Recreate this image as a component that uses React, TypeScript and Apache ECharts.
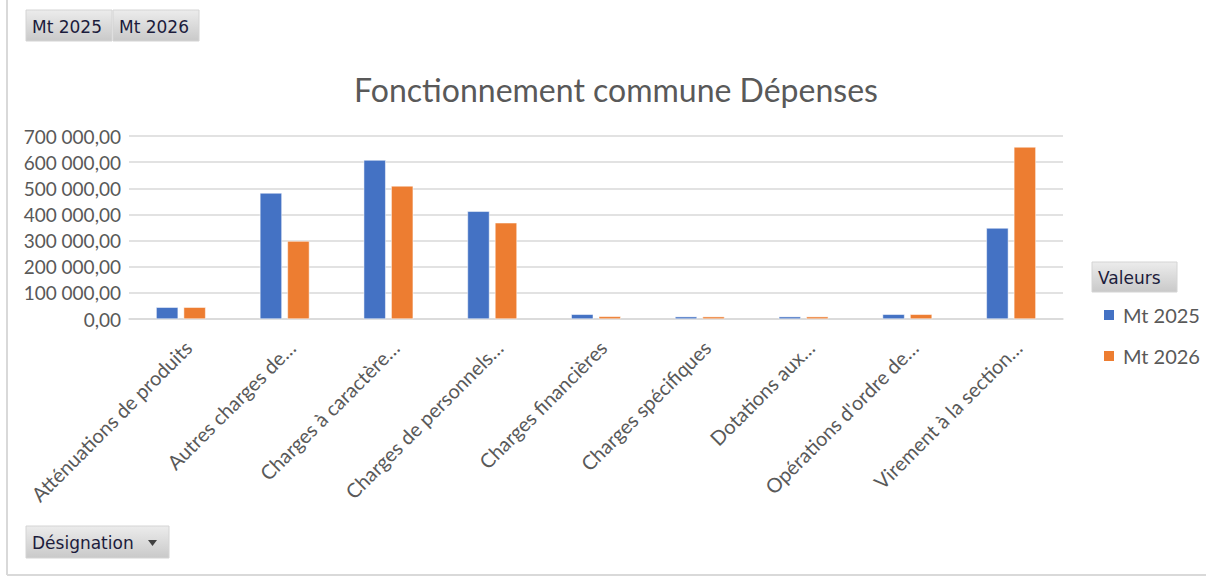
import React, { useEffect, useRef } from "react";
import * as echarts from "echarts";

const categories = [
  "Atténuations de produits",
  "Autres charges de…",
  "Charges à caractère…",
  "Charges de personnels…",
  "Charges financières",
  "Charges spécifiques",
  "Dotations aux…",
  "Opérations d'ordre de…",
  "Virement à la section…",
];
const mt2025 = [45000, 482000, 608000, 412000, 18000, 9000, 9000, 18000, 348000];
const mt2026 = [45000, 298000, 509000, 368000, 10000, 9000, 9000, 18000, 658000];
const seriesNames = ["Mt 2025", "Mt 2026"];
const titleText = "Fonctionnement commune Dépenses";

const FONT = "Lato, 'Open Sans', sans-serif";
const BTN_FONT = "'DejaVu Sans', Tahoma, sans-serif";

function fmt(v: number): string {
  const s = Math.round(v).toString().replace(/\B(?=(\d{3})+(?!\d))/g, " ");
  return s + ",00";
}

const btnFill = new echarts.graphic.LinearGradient(0, 0, 0, 1, [
  { offset: 0, color: "#ececec" },
  { offset: 1, color: "#c9c9c9" },
]);

function button(x: number, y: number, w: number, h: number, text: string, fontSize = 17) {
  return {
    type: "group",
    x,
    y,
    children: [
      { type: "rect", shape: { x: 0, y: 0, width: w, height: h }, style: { fill: btnFill, stroke: "#d4d4d4", lineWidth: 1 } },
      {
        type: "text",
        x: 6,
        y: h / 2 + 1,
        style: { text, fill: "#1c1c3c", font: `${fontSize}px ${BTN_FONT}`, verticalAlign: "middle" },
      },
    ],
  };
}

export default function App() {
  const ref = useRef<HTMLDivElement>(null);
  useEffect(() => {
    if (!ref.current) return;
    const chart = echarts.init(ref.current, undefined, { renderer: "svg" });
    chart.setOption({
      animation: false,
      backgroundColor: "#ffffff",
      title: {
        text: titleText,
        left: 611,
        textAlign: "center",
        top: 68,
        textStyle: { fontFamily: FONT, fontSize: 32, fontWeight: "normal", color: "#595959" },
      },
      legend: {
        orient: "vertical",
        left: 1097,
        top: 300,
        itemWidth: 12,
        itemHeight: 12,
        itemGap: 21,
        icon: "rect",
        data: seriesNames,
        textStyle: { fontFamily: FONT, fontSize: 20, color: "#595959", padding: [0, 0, 0, 3] },
      },
      grid: { left: 129, right: 143, top: 136, bottom: 259, containLabel: false },
      xAxis: {
        type: "category",
        data: categories,
        axisLine: { lineStyle: { color: "#d9d9d9", width: 1.5 } },
        axisTick: { show: false },
        axisLabel: {
          interval: 0,
          rotate: 45,
          margin: 18,
          verticalAlign: "top",
          fontFamily: FONT,
          fontSize: 20,
          color: "#595959",
        },
      },
      yAxis: {
        type: "value",
        min: 0,
        max: 700000,
        interval: 100000,
        axisLine: { show: false },
        axisTick: { show: false },
        splitLine: { lineStyle: { color: "#d9d9d9", width: 1.5 } },
        axisLabel: { formatter: (v: number) => fmt(v), fontFamily: FONT, fontSize: 19, color: "#595959", margin: 8 },
      },
      series: [
        {
          name: seriesNames[0],
          type: "bar",
          data: mt2025,
          barWidth: 22,
          barGap: "25%",
          itemStyle: { color: "#4472C4", borderColor: "#ffffff", borderWidth: 0.5 },
        },
        {
          name: seriesNames[1],
          type: "bar",
          data: mt2026,
          barWidth: 22,
          barGap: "25%",
          itemStyle: { color: "#ED7D31", borderColor: "#ffffff", borderWidth: 0.5 },
        },
      ],
      graphic: [
        { type: "line", shape: { x1: 7, y1: 0, x2: 7, y2: 575 }, style: { stroke: "#d9d9d9", lineWidth: 2 } },
        { type: "line", shape: { x1: 7, y1: 575, x2: 1206, y2: 575 }, style: { stroke: "#d9d9d9", lineWidth: 2 } },
        button(26, 10, 86, 31, "Mt 2025"),
        button(113, 10, 86, 31, "Mt 2026"),
        button(1092, 262, 85, 30, "Valeurs", 17),
        {
          type: "group",
          x: 26,
          y: 526,
          children: [
            { type: "rect", shape: { x: 0, y: 0, width: 143, height: 32 }, style: { fill: btnFill, stroke: "#d4d4d4", lineWidth: 1 } },
            {
              type: "text",
              x: 6,
              y: 17,
              style: { text: "Désignation", fill: "#1c1c3c", font: `17px ${BTN_FONT}`, verticalAlign: "middle" },
            },
            { type: "polygon", shape: { points: [[122, 14], [131, 14], [126.5, 20]] }, style: { fill: "#404040" } },
          ],
        },
      ],
    });
    return () => chart.dispose();
  }, []);
  return <div ref={ref} style={{ position: "fixed", left: 0, top: 0, width: 1206, height: 578 }} />;
}
